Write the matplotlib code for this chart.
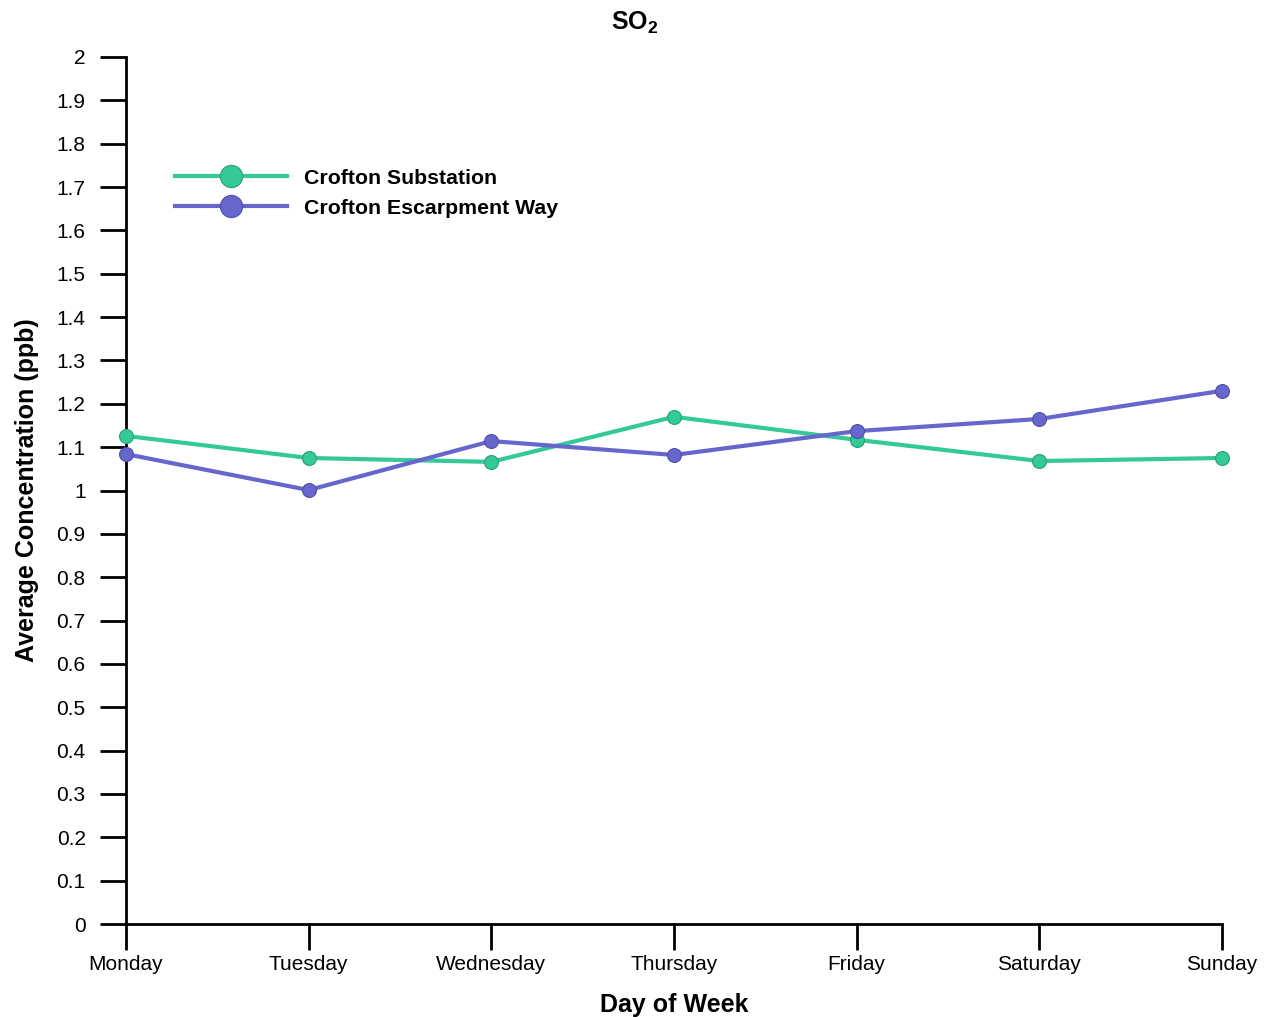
import matplotlib.pyplot as plt

days = ['Monday', 'Tuesday', 'Wednesday', 'Thursday', 'Friday', 'Saturday', 'Sunday']
substation = [1.126, 1.075, 1.066, 1.170, 1.117, 1.068, 1.075]
escarpment = [1.084, 1.001, 1.114, 1.082, 1.137, 1.165, 1.230]
y_ticks = [i / 10 for i in range(0, 21)]
y_labels = ['0', '0.1', '0.2', '0.3', '0.4', '0.5', '0.6', '0.7', '0.8', '0.9', '1',
            '1.1', '1.2', '1.3', '1.4', '1.5', '1.6', '1.7', '1.8', '1.9', '2']

plt.rcParams['font.family'] = ['Liberation Sans', 'DejaVu Sans']
plt.rcParams['mathtext.fontset'] = 'custom'
plt.rcParams['mathtext.rm'] = 'Liberation Sans'
plt.rcParams['mathtext.bf'] = 'Liberation Sans:bold'

fig = plt.figure(figsize=(12.7, 10.17), dpi=100)
ax = fig.add_axes([126 / 1270, 1 - 924 / 1017, (1222 - 126) / 1270, (924 - 57) / 1017])

x = range(len(days))
ax.plot(x, substation, color='#33C998', lw=3, marker='o', ms=10,
        mec='#2a9f78', mew=0.8, label='Crofton Substation', clip_on=False, zorder=3)
ax.plot(x, escarpment, color='#6666CC', lw=3, marker='o', ms=10,
        mec='#5050a8', mew=0.8, label='Crofton Escarpment Way', clip_on=False, zorder=3)

ax.set_xlim(0, 6)
ax.set_ylim(0, 2)
ax.set_xticks(list(x))
ax.set_xticklabels(days, fontsize=15)
ax.set_yticks(y_ticks)
ax.set_yticklabels(y_labels, fontsize=15)
ax.tick_params(direction='out', length=19, width=2, color='black')
ax.tick_params(axis='x', pad=3)
ax.tick_params(axis='y', pad=10)
for s in ['top', 'right']:
    ax.spines[s].set_visible(False)
for s in ['left', 'bottom']:
    ax.spines[s].set_linewidth(2)

ax.set_xlabel('Day of Week', fontsize=18, fontweight='bold', labelpad=14)
ax.set_ylabel('Average Concentration (ppb)', fontsize=18, fontweight='bold', labelpad=13)
fig.text(0.5, 1 - 23 / 1017, r'$\mathbf{SO_2}$', fontsize=18, ha='center', va='center')

ax.legend(loc='upper left', bbox_to_anchor=(0.027, 0.893), frameon=False,
          prop={'weight': 'bold', 'size': 15.3}, handlelength=5.3,
          markerscale=1.6, labelspacing=0.5, handletextpad=0.8)

fig.savefig('out.png', dpi=100)
